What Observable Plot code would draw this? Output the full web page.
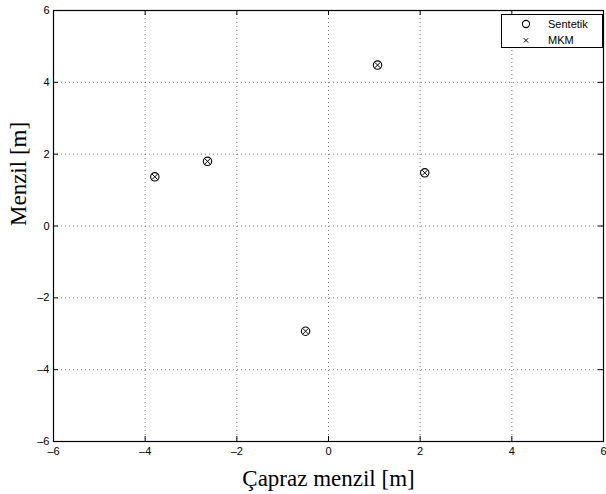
<!DOCTYPE html>
<html>
<head>
<meta charset="utf-8">
<script src="https://cdn.jsdelivr.net/npm/d3@7"></script>
<script src="https://cdn.jsdelivr.net/npm/@observablehq/plot@0.6"></script>
<style>
  body { margin: 0; background: #fff; }
  #wrap { position: relative; width: 606px; height: 494px; }
  #legend { position: absolute; left: 501px; top: 14px; width: 100px; height: 32px;
    border: 1px solid #000; background: #fff; font: 11px "Liberation Sans", Arial, sans-serif; }
  #legend svg { position: absolute; left: 0; top: 0; }
</style>
</head>
<body>
<div id="wrap"></div>
<script>
const crossRange = [-3.79, -2.64, 1.07, 2.10, -0.50];
const range      = [1.37, 1.80, 4.48, 1.48, -2.93];
const seriesNames = ["Sentetik", "MKM"];
const xTicks = [-6, -4, -2, 0, 2, 4, 6];
const yTicks = [-6, -4, -2, 0, 2, 4, 6];
const xLabel = "Çapraz menzil [m]";
const yLabel = "Menzil [m]";

const pts = crossRange.map((x, i) => ({x, y: range[i]}));
const W = 606, H = 494, mt = 10, mb = 53, ml = 53, mr = 3;
const ph = H - mt - mb, pw = W - ml - mr;
const grid = {stroke: "#000", strokeOpacity: 0.5, strokeDasharray: "1,3", strokeWidth: 1};
const serif = "'Liberation Serif', 'Times New Roman', serif";

const chart = Plot.plot({
  width: W, height: H,
  marginTop: mt, marginBottom: mb, marginLeft: ml, marginRight: mr,
  x: {domain: [-6, 6]},
  y: {domain: [-6, 6]},
  style: {fontFamily: "'Liberation Sans', Arial, sans-serif", background: "#fff"},
  marks: [
    Plot.ruleX(xTicks.slice(1, -1), {x: d => d, ...grid}),
    Plot.ruleY(yTicks.slice(1, -1), {y: d => d, ...grid}),
    Plot.ruleX(xTicks, {x: d => d, insetTop: ph - 5, stroke: "#000"}),
    Plot.ruleX(xTicks, {x: d => d, insetBottom: ph - 5, stroke: "#000"}),
    Plot.ruleY(yTicks, {y: d => d, insetRight: pw - 5, stroke: "#000"}),
    Plot.ruleY(yTicks, {y: d => d, insetLeft: pw - 5, stroke: "#000"}),
    Plot.frame({stroke: "#000", strokeWidth: 1.2}),
    Plot.axisX({ticks: xTicks, tickSize: 0, tickPadding: 6, fontSize: 11, label: null, tickFormat: d => d < 0 ? "\u2013" + (-d) : String(d), fill: "#000"}),
    Plot.axisY({ticks: yTicks, tickSize: 0, tickPadding: 4, fontSize: 11, label: null, tickFormat: d => d < 0 ? "\u2013" + (-d) : String(d), fill: "#000"}),
    Plot.dot(pts, {x: "x", y: "y", r: 4.2, stroke: "#000", strokeWidth: 1.1, fill: "none"}),
    Plot.dot(pts, {x: "x", y: "y", r: 2.6, symbol: "times", stroke: "#000", strokeWidth: 1}),
    Plot.text([xLabel], {frameAnchor: "bottom", dy: 44, text: d => d, fontSize: 23, fontFamily: serif, fill: "#000"}),
    Plot.text([yLabel], {frameAnchor: "left", dx: -35, rotate: -90, text: d => d, fontSize: 23, fontFamily: serif, fill: "#000"})
  ]
});
const wrap = document.getElementById("wrap");
wrap.appendChild(chart);

const leg = document.createElement("div");
leg.id = "legend";
leg.innerHTML = `<svg width="100" height="32">
  <circle cx="24" cy="9" r="3.6" fill="none" stroke="#000" stroke-width="1.1"/>
  <path d="M21.8,23.2 L26.2,27.6 M26.2,23.2 L21.8,27.6" stroke="#000" stroke-width="1"/>
  <text x="46" y="13" font-size="11" fill="#000">${seriesNames[0]}</text>
  <text x="46" y="29" font-size="11" fill="#000">${seriesNames[1]}</text>
</svg>`;
wrap.appendChild(leg);
</script>
</body>
</html>
